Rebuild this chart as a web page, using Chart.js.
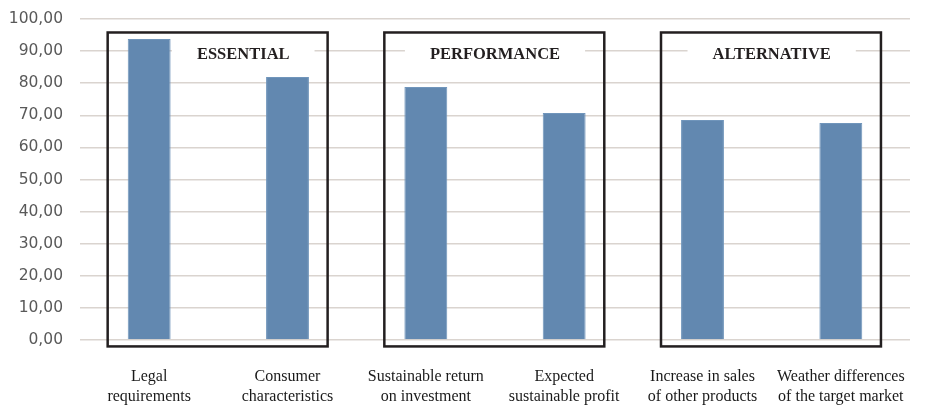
<!DOCTYPE html>
<html>
<head>
<meta charset="utf-8">
<script src="https://cdn.jsdelivr.net/npm/chart.js@4"></script>
<style>
  html, body { margin: 0; padding: 0; background: #fff; }
  #wrap { width: 935px; height: 406px; }
</style>
</head>
<body>
<div id="wrap"><canvas id="myChart"></canvas></div>
<script>
// donnees
const categories = [
  ["Legal", "requirements"],
  ["Consumer", "characteristics"],
  ["Sustainable return", "on investment"],
  ["Expected", "sustainable profit"],
  ["Increase in sales", "of other products"],
  ["Weather differences", "of the target market"]
];
const values = [93.8, 81.9, 78.8, 70.7, 68.5, 67.6];
const yTicks = [0, 10, 20, 30, 40, 50, 60, 70, 80, 90, 100];

// groupes encadres : premiere et derniere categorie
const groupNames = ["ESSENTIAL", "PERFORMANCE", "ALTERNATIVE"];
const groupStart = [0, 2, 4];
const groupEnd = [1, 3, 5];
const groupLabelAt = [0.68, 2.5, 4.5];

const labelFont = "bold 16.5px 'Liberation Serif'";

// plugin pour dessiner les cadres et les titres
const groupBoxes = {
  id: "groupBoxes",
  beforeDatasetsDraw(chart) {
    const ctx = chart.ctx;
    const x = chart.scales.x;
    const y = chart.scales.y;
    ctx.save();
    ctx.font = labelFont;
    groupNames.forEach((name, i) => {
      const cx = x.getPixelForValue(groupLabelAt[i]);
      const cy = y.getPixelForValue(89);
      const w = ctx.measureText(name).width + 50;
      ctx.fillStyle = "#ffffff";
      ctx.fillRect(cx - w / 2, cy - 12, w, 24);
    });
    ctx.restore();
  },
  afterDatasetsDraw(chart) {
    const ctx = chart.ctx;
    const x = chart.scales.x;
    const y = chart.scales.y;
    ctx.save();
    ctx.strokeStyle = "#231f20";
    ctx.lineWidth = 2.5;
    groupNames.forEach((name, i) => {
      const left = x.getPixelForValue(groupStart[i] - 0.3);
      const right = x.getPixelForValue(groupEnd[i] + 0.29);
      const top = y.getPixelForValue(95.8);
      const bottom = y.getPixelForValue(-2);
      ctx.strokeRect(left, top, right - left, bottom - top);

      ctx.fillStyle = "#231f20";
      ctx.font = labelFont;
      ctx.textAlign = "center";
      ctx.textBaseline = "middle";
      ctx.fillText(name, x.getPixelForValue(groupLabelAt[i]), y.getPixelForValue(89));
    });
    ctx.restore();
  }
};

const ctx = document.getElementById("myChart");
const myBarChart = new Chart(ctx, {
  type: "bar",
  data: {
    labels: categories,
    datasets: [{
      data: values,
      backgroundColor: "#6288b0",
      borderColor: "#7095bb",
      borderWidth: 1,
      barPercentage: 0.31,
      categoryPercentage: 1
    }]
  },
  options: {
    responsive: true,
    maintainAspectRatio: false,
    animation: false,
    layout: { padding: { top: 19, right: 25, bottom: 0, left: 0 } },
    plugins: {
      legend: { display: false },
      tooltip: { enabled: false }
    },
    scales: {
      x: {
        grid: { display: false, drawTicks: false },
        border: { display: false },
        ticks: {
          color: "#1a1a1a",
          font: { family: "'Liberation Serif'", size: 16, lineHeight: 1.25 },
          padding: 27,
          maxRotation: 0,
          autoSkip: false
        },
        afterFit(scale) { scale.height = 66; }
      },
      y: {
        min: 0,
        max: 100,
        afterBuildTicks(scale) {
          scale.ticks = yTicks.map(v => ({ value: v }));
        },
        grid: { color: "#dad4cf", lineWidth: 1.6, drawTicks: false },
        border: { display: false },
        ticks: {
          color: "#595959",
          font: { family: "'DejaVu Sans'", size: 15.5 },
          padding: 17,
          callback: v => v.toFixed(2).replace(".", ",")
        },
        afterFit(scale) {
          scale.width = 80;
          scale.paddingTop = 0;
          scale.paddingBottom = 0;
        }
      }
    }
  },
  plugins: [groupBoxes]
});
</script>
</body>
</html>
